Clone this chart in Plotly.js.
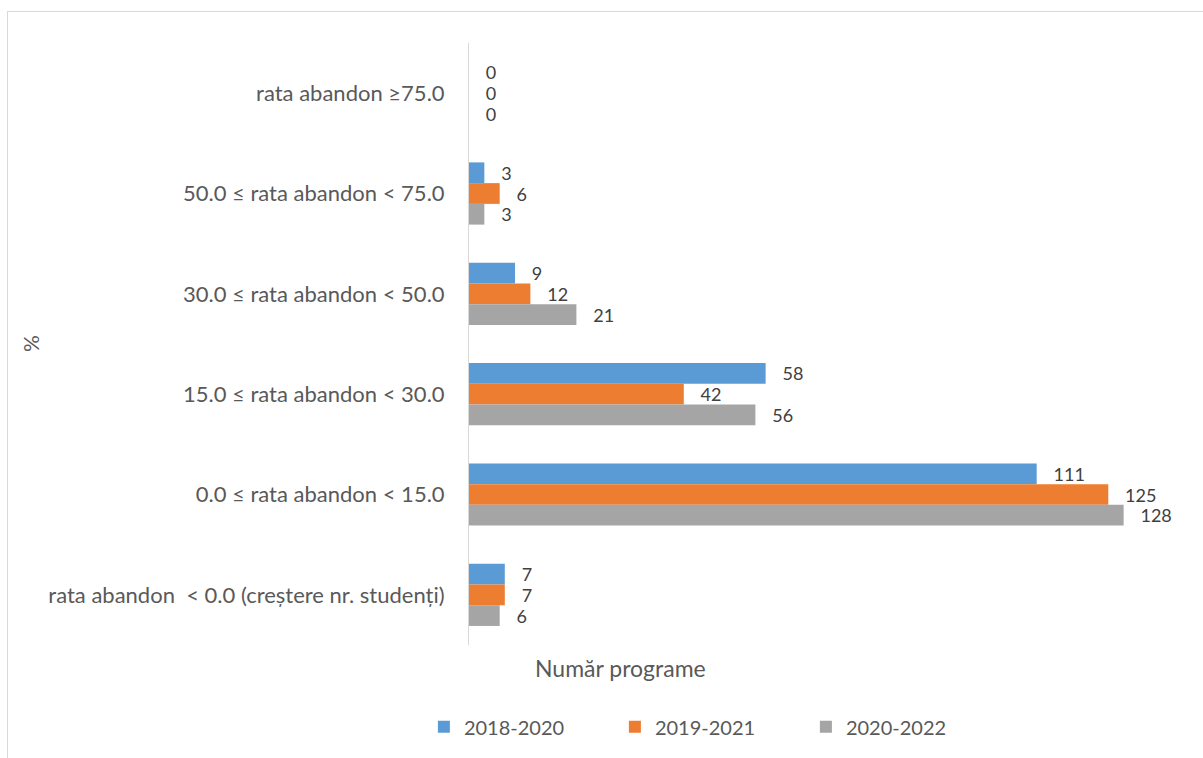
<!DOCTYPE html>
<html>
<head>
<meta charset="utf-8">
<script src="https://cdn.plot.ly/plotly-3.0.1.min.js"></script>
<style>
  html, body { margin: 0; padding: 0; background: #fff; overflow: hidden; }
  #chart { width: 1203px; height: 758px; position: absolute; left: 0; top: 0; }
  #frame { position: absolute; left: 7px; top: 11px; width: 1400px; height: 1000px;
           border-top: 1.5px solid #D9D9D9; border-left: 1.5px solid #D9D9D9; pointer-events: none; }
</style>
</head>
<body>
<div id="chart"></div>
<div id="frame"></div>
<script>
// Categories listed top to bottom as shown
const categories = [
  "rata abandon ≥75.0",
  "50.0 ≤ rata abandon < 75.0",
  "30.0 ≤ rata abandon < 50.0",
  "15.0 ≤ rata abandon < 30.0",
  "0.0 ≤ rata abandon < 15.0",
  "rata abandon \u00a0< 0.0 (creștere nr. studenți)"
];
const seriesNames = ["2018-2020", "2019-2021", "2020-2022"];
const values2018_2020 = [0, 3, 9, 58, 111, 7];
const values2019_2021 = [0, 6, 12, 42, 125, 7];
const values2020_2022 = [0, 3, 21, 56, 128, 6];
const colors = ["#5B9BD5", "#ED7D31", "#A5A5A5"];

const FONT = "Lato, 'Open Sans', sans-serif";
const pad = "\u00a0\u00a0\u00a0";

function mk(name, vals, color) {
  return {
    type: "bar", orientation: "h", name: name,
    x: vals, y: categories,
    marker: { color: color, line: { width: 0 } },
    text: vals.map(v => pad + v),
    textposition: "outside",
    textfont: { family: FONT, size: 18, color: "#404040" },
    constraintext: "none",
    cliponaxis: false,
    hoverinfo: "x+name"
  };
}

const data = [
  mk(seriesNames[0], values2018_2020, colors[0]),
  mk(seriesNames[1], values2019_2021, colors[1]),
  mk(seriesNames[2], values2020_2022, colors[2])
];

const layout = {
  width: 1203, height: 758,
  margin: { l: 469, r: 18, t: 43, b: 113 },
  paper_bgcolor: "#fff", plot_bgcolor: "#fff",
  barmode: "group", bargap: 0.38, bargroupgap: 0,
  font: { family: FONT, color: "#595959", size: 20 },
  xaxis: { range: [0, 140], showgrid: false, zeroline: false, showline: false,
           showticklabels: false, ticks: "", fixedrange: true },
  yaxis: { type: "category", autorange: false, range: [5.5, -0.5],
           showgrid: false, zeroline: false, showline: true, linecolor: "#D9D9D9", linewidth: 1,
           ticks: "", ticklabelstandoff: 19,
           tickfont: { family: FONT, size: 22, color: "#595959" } },
  showlegend: true,
  legend: { orientation: "h", x: -0.063, xanchor: "left", y: -0.136, yanchor: "middle",
            entrywidth: 146, entrywidthmode: "pixels", itemwidth: 30,
            font: { family: FONT, size: 20, color: "#595959" } },
  annotations: [
    { text: "%", xref: "paper", yref: "paper", x: -0.613, y: 0.5, textangle: -90,
      showarrow: false, xanchor: "center", yanchor: "middle",
      font: { family: FONT, size: 21, color: "#595959" } },
    { text: "Număr programe", xref: "paper", yref: "paper", x: 0.211, y: -0.038,
      showarrow: false, xanchor: "center", yanchor: "middle",
      font: { family: FONT, size: 23, color: "#595959" } }
  ]
};

Plotly.newPlot("chart", data, layout, { displayModeBar: false, staticPlot: true });
</script>
</body>
</html>
